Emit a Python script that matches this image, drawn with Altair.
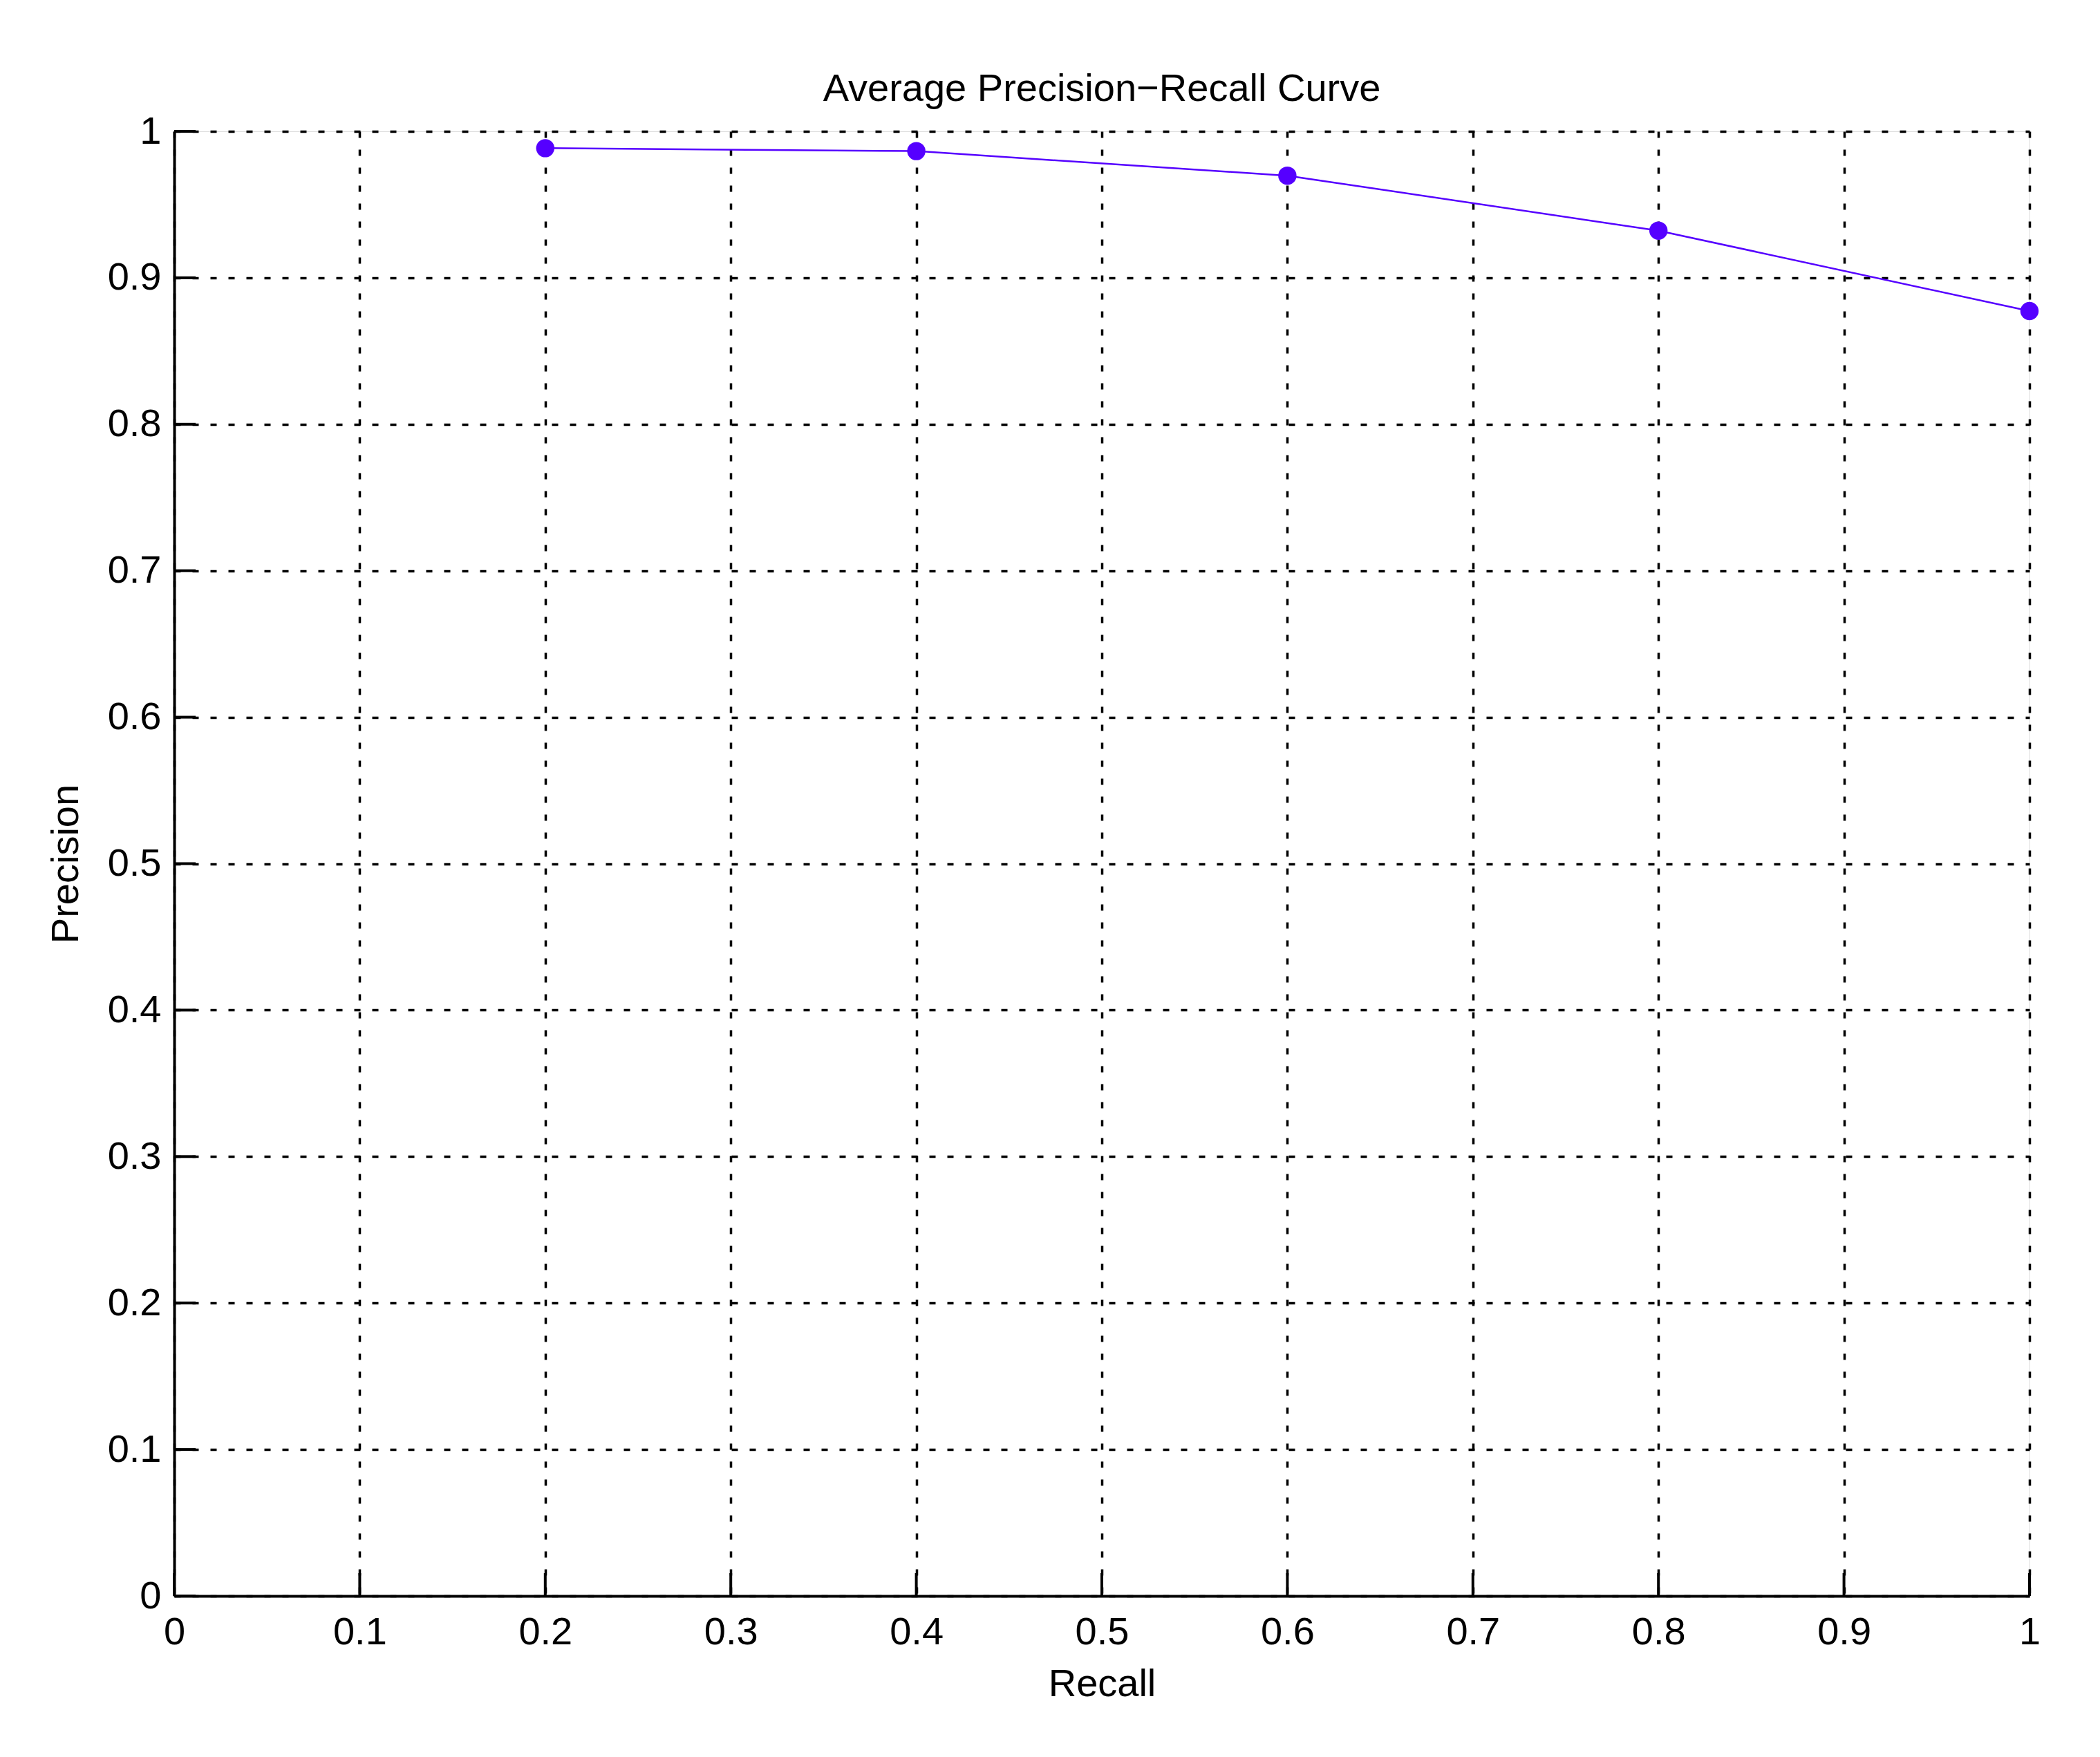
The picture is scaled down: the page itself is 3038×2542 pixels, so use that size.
import altair as alt
import pandas as pd

# Data
recall = [0.2, 0.4, 0.6, 0.8, 1.0]
precision = [0.9885, 0.9865, 0.9697, 0.9322, 0.8773]

tick_values = [0, 0.1, 0.2, 0.3, 0.4, 0.5, 0.6, 0.7, 0.8, 0.9, 1]

W, H = 2684, 2119
FONT = "Liberation Sans"
LINE_COLOR = "#5500ff"

df = pd.DataFrame({"Recall": recall, "Precision": precision})
ticks = pd.DataFrame({"v": tick_values})

xscale = alt.Scale(domain=[0, 1], nice=False, zero=False)
yscale = alt.Scale(domain=[0, 1], nice=False, zero=False)

axis_common = dict(
    values=tick_values,
    format="~g",
    labelFont=FONT,
    labelFontSize=56,
    labelColor="black",
    titleFont=FONT,
    titleFontSize=56,
    titleColor="black",
    titleFontWeight="normal",
    domainColor="black",
    domainWidth=4,
    ticks=False,
    tickSize=0,
    grid=True,
    gridColor="black",
    gridDash=[9, 17],
    gridWidth=3.5,
    gridOpacity=1,
    labelFlush=False,
    labelOverlap=False,
    labelBound=False,
)

x_axis = alt.Axis(
    title="Recall",
    labelPadding=69,
    labelBaseline="alphabetic",
    titleY=144,
    titleBaseline="alphabetic",
    **axis_common,
)
y_axis = alt.Axis(
    title="Precision",
    labelPadding=19,
    titleX=-140,
    titleBaseline="alphabetic",
    **axis_common,
)

base = alt.Chart(df)

line = base.mark_line(color=LINE_COLOR, strokeWidth=2.5).encode(
    x=alt.X("Recall:Q", scale=xscale, axis=x_axis),
    y=alt.Y("Precision:Q", scale=yscale, axis=y_axis),
)

points = base.mark_point(
    filled=True, shape="circle", size=700, color=LINE_COLOR, opacity=1
).encode(
    x=alt.X("Recall:Q", scale=xscale, axis=x_axis),
    y=alt.Y("Precision:Q", scale=yscale, axis=y_axis),
)

xticks = alt.Chart(ticks).mark_rule(color="black", strokeWidth=4).encode(
    x=alt.X("v:Q", scale=xscale, axis=x_axis),
    y=alt.value(H),
    y2=alt.value(H - 33),
)

yticks = alt.Chart(ticks).mark_rule(color="black", strokeWidth=4).encode(
    y=alt.Y("v:Q", scale=yscale, axis=y_axis),
    x=alt.value(0),
    x2=alt.value(31),
)

chart = (
    alt.layer(line, xticks, yticks, points)
    .properties(
        width=W,
        height=H,
        title=alt.TitleParams(
            text="Average Precision−Recall Curve",
            font=FONT,
            fontSize=56,
            fontWeight="normal",
            color="black",
            anchor="middle",
            baseline="alphabetic",
            offset=45,
            dy=85,
        ),
        autosize="none",
        padding={"left": 244, "top": 182, "right": 94, "bottom": 225},
    )
    .configure_view(stroke=None)
    .configure(background="white")
)

chart.save("out.html", embed_options={"renderer": "svg", "actions": False})
